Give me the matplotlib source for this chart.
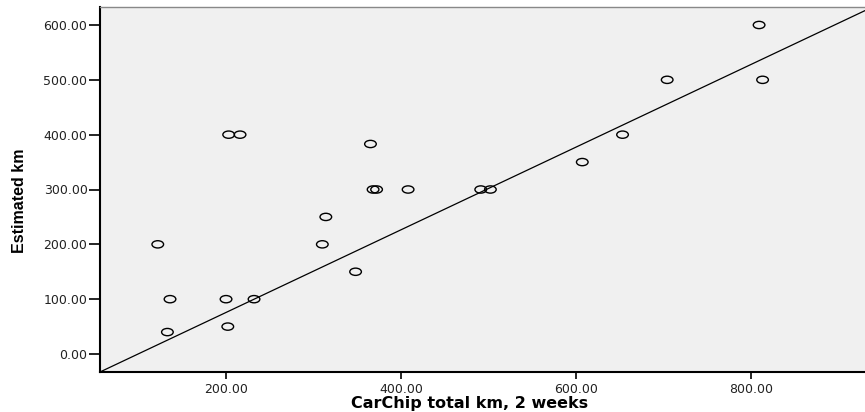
import numpy as np
import matplotlib
matplotlib.use("Agg")
import matplotlib.pyplot as plt
from matplotlib.path import Path
from matplotlib.transforms import Affine2D

# Data
carchip_km = [122, 136, 133, 200, 202, 232, 203, 216, 310, 314, 348, 365,
              368, 372, 408, 491, 502, 607, 653, 704, 809, 813]
estimated_km = [200, 100, 40, 100, 50, 100, 400, 400, 200, 250, 150, 383,
                300, 300, 300, 300, 300, 350, 400, 500, 600, 500]
line_intercept = -75.0
line_slope = 0.754
x_ticks = [200, 400, 600, 800]
y_ticks = [0, 100, 200, 300, 400, 500, 600]

W, H = 865, 412
fig = plt.figure(figsize=(W / 100, H / 100), dpi=100)
left, right, top, bottom = 100, 865, 7, 372
ax = fig.add_axes([left / W, 1 - bottom / H, (right - left) / W, (bottom - top) / H])
ax.set_facecolor("#f0f0f0")

ax.set_xlim(56, 930)
ax.set_ylim(-32.8, 632.8)

# horizontally stretched circle marker
ell = Path.unit_circle().transformed(Affine2D().scale(1.6, 1.0))
ax.scatter(carchip_km, estimated_km, marker=ell, s=70, facecolors="none",
           edgecolors="black", linewidths=1.0, zorder=3, clip_on=False)

ax.axline((0, line_intercept), slope=line_slope, color="black", lw=0.9, zorder=2)

ax.set_xticks(x_ticks)
ax.set_yticks(y_ticks)
ax.set_xticklabels([f"{v:.2f}" for v in x_ticks])
ax.set_yticklabels([f"{v:.2f}" for v in y_ticks])

for lab in ax.get_xticklabels() + ax.get_yticklabels():
    lab.set_fontfamily("DejaVu Sans")
    lab.set_fontsize(9)
    lab.set_color("#222222")

ax.tick_params(axis="x", direction="out", length=5, width=1.2, pad=3)
ax.tick_params(axis="y", direction="out", length=8, width=1.2, pad=1)

ax.spines["left"].set_linewidth(1.5)
ax.spines["bottom"].set_linewidth(1.5)
ax.spines["top"].set_linewidth(1.0)
ax.spines["top"].set_color("#888888")
ax.spines["right"].set_visible(False)

ax.set_xlabel("CarChip total km, 2 weeks", family="DejaVu Sans",
              fontsize=11.5, fontweight="bold")
ax.xaxis.set_label_coords((470 - left) / (right - left), -0.066)
ax.set_ylabel("Estimated km", family=["Liberation Sans Narrow", "Liberation Sans"],
              fontsize=11.5, fontweight="bold")
ax.yaxis.set_label_coords(-0.095, 0.47)

fig.savefig("out.png", dpi=100, facecolor="white")
